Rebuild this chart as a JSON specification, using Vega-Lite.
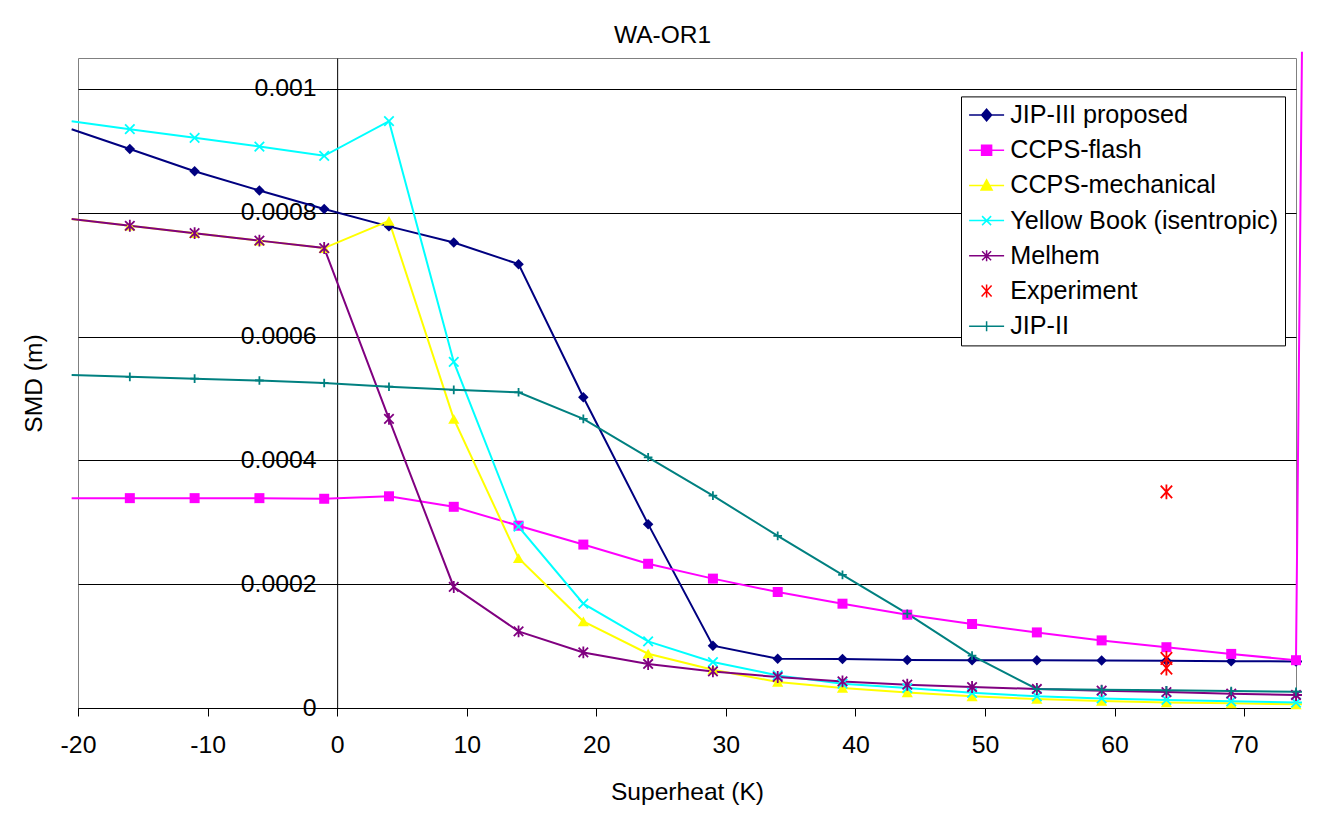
{
  "$schema": "https://vega.github.io/schema/vega-lite/v6.json",
  "width": 1218,
  "height": 650,
  "autosize": "none",
  "padding": {"left": 78, "top": 58, "right": 34, "bottom": 108},
  "background": "white",
  "config": {
    "font": "Liberation Sans",
    "view": {"stroke": "#808080", "strokeWidth": 1},
    "legend": {
      "orient": "none",
      "legendX": 883,
      "legendY": 38.4,
      "padding": 6,
      "strokeColor": "black",
      "fillColor": "white",
      "labelFontSize": 25.2,
      "labelColor": "black",
      "labelOffset": 11,
      "labelLimit": 400,
      "symbolOffset": 7,
      "rowPadding": 9.2,
      "symbolSize": 100,
      "symbolStrokeWidth": 1.5,
      "symbolOpacity": 1
    }
  },
  "title": {
    "text": "WA-OR1",
    "fontSize": 24.5,
    "fontWeight": "normal",
    "color": "black",
    "frame": "group",
    "anchor": "middle",
    "dx": -24.5,
    "dy": 36,
    "offset": 16,
    "baseline": "alphabetic"
  },
  "data": {
    "values": [
      {"s": "JIP-III proposed", "x": -20.49, "y": 0.000935},
      {"s": "JIP-III proposed", "x": -16, "y": 0.000903},
      {"s": "JIP-III proposed", "x": -11, "y": 0.000867},
      {"s": "JIP-III proposed", "x": -6, "y": 0.000836},
      {"s": "JIP-III proposed", "x": -1, "y": 0.000806},
      {"s": "JIP-III proposed", "x": 4, "y": 0.000778},
      {"s": "JIP-III proposed", "x": 9, "y": 0.000752},
      {"s": "JIP-III proposed", "x": 14, "y": 0.000717},
      {"s": "JIP-III proposed", "x": 19, "y": 0.000502},
      {"s": "JIP-III proposed", "x": 24, "y": 0.000297},
      {"s": "JIP-III proposed", "x": 29, "y": 0.0001006},
      {"s": "JIP-III proposed", "x": 34, "y": 0.0000797},
      {"s": "JIP-III proposed", "x": 39, "y": 0.0000792},
      {"s": "JIP-III proposed", "x": 44, "y": 0.0000775},
      {"s": "JIP-III proposed", "x": 49, "y": 0.0000772},
      {"s": "JIP-III proposed", "x": 54, "y": 0.000077},
      {"s": "JIP-III proposed", "x": 59, "y": 0.0000766},
      {"s": "JIP-III proposed", "x": 64, "y": 0.0000762},
      {"s": "JIP-III proposed", "x": 69, "y": 0.0000757},
      {"s": "JIP-III proposed", "x": 74, "y": 0.0000752},
      {"s": "JIP-III proposed", "x": 74.46, "y": 0.000075},
      {"s": "CCPS-flash", "x": -20.49, "y": 0.000339},
      {"s": "CCPS-flash", "x": -16, "y": 0.000339},
      {"s": "CCPS-flash", "x": -11, "y": 0.000339},
      {"s": "CCPS-flash", "x": -6, "y": 0.000339},
      {"s": "CCPS-flash", "x": -1, "y": 0.000338},
      {"s": "CCPS-flash", "x": 4, "y": 0.000342},
      {"s": "CCPS-flash", "x": 9, "y": 0.000325},
      {"s": "CCPS-flash", "x": 14, "y": 0.0002945},
      {"s": "CCPS-flash", "x": 19, "y": 0.000264},
      {"s": "CCPS-flash", "x": 24, "y": 0.000233},
      {"s": "CCPS-flash", "x": 29, "y": 0.000209},
      {"s": "CCPS-flash", "x": 34, "y": 0.0001874},
      {"s": "CCPS-flash", "x": 39, "y": 0.0001685},
      {"s": "CCPS-flash", "x": 44, "y": 0.0001507},
      {"s": "CCPS-flash", "x": 49, "y": 0.0001357},
      {"s": "CCPS-flash", "x": 54, "y": 0.0001221},
      {"s": "CCPS-flash", "x": 59, "y": 0.0001092},
      {"s": "CCPS-flash", "x": 64, "y": 0.0000982},
      {"s": "CCPS-flash", "x": 69, "y": 0.0000874},
      {"s": "CCPS-flash", "x": 74, "y": 0.0000772},
      {"s": "CCPS-flash", "x": 74.46, "y": 0.00106},
      {"s": "CCPS-mechanical", "x": -20.49, "y": 0.00079},
      {"s": "CCPS-mechanical", "x": -16, "y": 0.000779},
      {"s": "CCPS-mechanical", "x": -11, "y": 0.000767},
      {"s": "CCPS-mechanical", "x": -6, "y": 0.000755},
      {"s": "CCPS-mechanical", "x": -1, "y": 0.000743},
      {"s": "CCPS-mechanical", "x": 4, "y": 0.000787},
      {"s": "CCPS-mechanical", "x": 9, "y": 0.000467},
      {"s": "CCPS-mechanical", "x": 14, "y": 0.000242},
      {"s": "CCPS-mechanical", "x": 19, "y": 0.00014},
      {"s": "CCPS-mechanical", "x": 24, "y": 0.0000877},
      {"s": "CCPS-mechanical", "x": 29, "y": 0.0000619},
      {"s": "CCPS-mechanical", "x": 34, "y": 0.000042},
      {"s": "CCPS-mechanical", "x": 39, "y": 0.0000323},
      {"s": "CCPS-mechanical", "x": 44, "y": 0.0000252},
      {"s": "CCPS-mechanical", "x": 49, "y": 0.0000188},
      {"s": "CCPS-mechanical", "x": 54, "y": 0.0000145},
      {"s": "CCPS-mechanical", "x": 59, "y": 0.0000115},
      {"s": "CCPS-mechanical", "x": 64, "y": 0.000009},
      {"s": "CCPS-mechanical", "x": 69, "y": 0.0000075},
      {"s": "CCPS-mechanical", "x": 74, "y": 0.000006},
      {"s": "CCPS-mechanical", "x": 74.46, "y": 0.000006},
      {"s": "Yellow Book (isentropic)", "x": -20.49, "y": 0.000948},
      {"s": "Yellow Book (isentropic)", "x": -16, "y": 0.000935},
      {"s": "Yellow Book (isentropic)", "x": -11, "y": 0.000921},
      {"s": "Yellow Book (isentropic)", "x": -6, "y": 0.000907},
      {"s": "Yellow Book (isentropic)", "x": -1, "y": 0.000892},
      {"s": "Yellow Book (isentropic)", "x": 4, "y": 0.000948},
      {"s": "Yellow Book (isentropic)", "x": 9, "y": 0.000559},
      {"s": "Yellow Book (isentropic)", "x": 14, "y": 0.000293},
      {"s": "Yellow Book (isentropic)", "x": 19, "y": 0.0001685},
      {"s": "Yellow Book (isentropic)", "x": 24, "y": 0.0001076},
      {"s": "Yellow Book (isentropic)", "x": 29, "y": 0.0000743},
      {"s": "Yellow Book (isentropic)", "x": 34, "y": 0.0000527},
      {"s": "Yellow Book (isentropic)", "x": 39, "y": 0.0000393},
      {"s": "Yellow Book (isentropic)", "x": 44, "y": 0.0000323},
      {"s": "Yellow Book (isentropic)", "x": 49, "y": 0.0000245},
      {"s": "Yellow Book (isentropic)", "x": 54, "y": 0.0000188},
      {"s": "Yellow Book (isentropic)", "x": 59, "y": 0.0000155},
      {"s": "Yellow Book (isentropic)", "x": 64, "y": 0.000013},
      {"s": "Yellow Book (isentropic)", "x": 69, "y": 0.0000108},
      {"s": "Yellow Book (isentropic)", "x": 74, "y": 0.0000088},
      {"s": "Yellow Book (isentropic)", "x": 74.46, "y": 0.0000087},
      {"s": "Melhem", "x": -20.49, "y": 0.00079},
      {"s": "Melhem", "x": -16, "y": 0.000779},
      {"s": "Melhem", "x": -11, "y": 0.000767},
      {"s": "Melhem", "x": -6, "y": 0.000755},
      {"s": "Melhem", "x": -1, "y": 0.000743},
      {"s": "Melhem", "x": 4, "y": 0.000467},
      {"s": "Melhem", "x": 9, "y": 0.0001955},
      {"s": "Melhem", "x": 14, "y": 0.0001238},
      {"s": "Melhem", "x": 19, "y": 0.0000898},
      {"s": "Melhem", "x": 24, "y": 0.0000711},
      {"s": "Melhem", "x": 29, "y": 0.0000591},
      {"s": "Melhem", "x": 34, "y": 0.0000501},
      {"s": "Melhem", "x": 39, "y": 0.000043},
      {"s": "Melhem", "x": 44, "y": 0.0000376},
      {"s": "Melhem", "x": 49, "y": 0.0000339},
      {"s": "Melhem", "x": 54, "y": 0.0000307},
      {"s": "Melhem", "x": 59, "y": 0.0000279},
      {"s": "Melhem", "x": 64, "y": 0.0000258},
      {"s": "Melhem", "x": 69, "y": 0.0000231},
      {"s": "Melhem", "x": 74, "y": 0.000021},
      {"s": "Melhem", "x": 74.46, "y": 0.0000208},
      {"s": "Experiment", "x": 64, "y": 0.000349},
      {"s": "Experiment", "x": 64, "y": 0.00008},
      {"s": "Experiment", "x": 64, "y": 0.0000646},
      {"s": "JIP-II", "x": -20.49, "y": 0.000538},
      {"s": "JIP-II", "x": -16, "y": 0.000535},
      {"s": "JIP-II", "x": -11, "y": 0.000532},
      {"s": "JIP-II", "x": -6, "y": 0.000529},
      {"s": "JIP-II", "x": -1, "y": 0.000525},
      {"s": "JIP-II", "x": 4, "y": 0.000519},
      {"s": "JIP-II", "x": 9, "y": 0.000514},
      {"s": "JIP-II", "x": 14, "y": 0.00051},
      {"s": "JIP-II", "x": 19, "y": 0.000467},
      {"s": "JIP-II", "x": 24, "y": 0.000405},
      {"s": "JIP-II", "x": 29, "y": 0.000343},
      {"s": "JIP-II", "x": 34, "y": 0.000278},
      {"s": "JIP-II", "x": 39, "y": 0.000215},
      {"s": "JIP-II", "x": 44, "y": 0.0001523},
      {"s": "JIP-II", "x": 49, "y": 0.0000845},
      {"s": "JIP-II", "x": 54, "y": 0.0000307},
      {"s": "JIP-II", "x": 59, "y": 0.0000296},
      {"s": "JIP-II", "x": 64, "y": 0.0000285},
      {"s": "JIP-II", "x": 69, "y": 0.0000274},
      {"s": "JIP-II", "x": 74, "y": 0.0000263},
      {"s": "JIP-II", "x": 74.46, "y": 0.0000262}
    ]
  },
  "encoding": {
    "x": {
      "field": "x",
      "type": "quantitative",
      "scale": {"domain": [-20, 74], "nice": false, "zero": false},
      "axis": {
        "title": "Superheat (K)",
        "values": [-20, -10, 0, 10, 20, 30, 40, 50, 60, 70],
        "labelExpr": "(datum.value < 0 ? '-' : '') + abs(datum.value)",
        "grid": false,
        "domainColor": "black",
        "domainWidth": 1,
        "tickColor": "black",
        "tickSize": 8,
        "labelFontSize": 24.8,
        "labelColor": "black",
        "labelPadding": 16,
        "labelFlush": false,
        "labelOverlap": false,
        "labelBound": false,
        "titleFontSize": 24.6,
        "titleFontWeight": "normal",
        "titleColor": "black",
        "titleBaseline": "alphabetic",
        "titleY": 91.7
      }
    },
    "y": {
      "field": "y",
      "type": "quantitative",
      "scale": {"domain": [0, 0.00105], "nice": false, "zero": true},
      "axis": {
        "title": "SMD (m)",
        "values": [0, 0.0002, 0.0004, 0.0006, 0.0008, 0.001],
        "format": "~g",
        "offset": -259.15,
        "grid": true,
        "gridColor": "black",
        "gridWidth": 1,
        "domainColor": "black",
        "domainWidth": 1,
        "tickColor": "black",
        "tickSize": 8,
        "labelFontSize": 24.8,
        "labelColor": "black",
        "labelPadding": 13,
        "labelFlush": false,
        "labelOverlap": false,
        "labelBound": false,
        "titleFontSize": 24.6,
        "titleFontWeight": "normal",
        "titleColor": "black",
        "titleAngle": -90,
        "titleAlign": "center",
        "titleBaseline": "alphabetic",
        "titleX": -295.5,
        "titleY": 325
      }
    },
    "color": {
      "field": "s",
      "type": "nominal",
      "scale": {
        "domain": ["JIP-III proposed", "CCPS-flash", "CCPS-mechanical", "Yellow Book (isentropic)", "Melhem", "Experiment", "JIP-II"],
        "range": ["#000080", "#FF00FF", "#FFFF00", "#00FFFF", "#800080", "#FF0000", "#008080"]
      },
      "legend": {"title": null}
    }
  },
  "layer": [
    {
      "transform": [{"filter": "datum.s !== 'Experiment'"}],
      "mark": {"type": "line", "strokeWidth": 2, "clip": false}
    },
    {
      "transform": [{"filter": "datum.s === 'JIP-III proposed' && datum.x >= -20 && datum.x <= 74"}],
      "mark": {"type": "point", "shape": "diamond", "filled": true, "size": 110, "opacity": 1}
    },
    {
      "transform": [{"filter": "datum.s === 'CCPS-flash' && datum.x >= -20 && datum.x <= 74"}],
      "mark": {"type": "point", "shape": "square", "filled": true, "size": 100, "opacity": 1}
    },
    {
      "transform": [{"filter": "datum.s === 'CCPS-mechanical' && datum.x >= -20 && datum.x <= 74"}],
      "mark": {"type": "point", "shape": "triangle-up", "filled": true, "size": 125, "opacity": 1}
    },
    {
      "transform": [{"filter": "datum.s === 'Yellow Book (isentropic)' && datum.x >= -20 && datum.x <= 74"}],
      "mark": {"type": "point", "shape": "M-1,-1L1,1M-1,1L1,-1", "filled": false, "size": 90, "opacity": 1, "strokeWidth": 1.8}
    },
    {
      "transform": [{"filter": "datum.s === 'Melhem' && datum.x >= -20 && datum.x <= 74"}],
      "mark": {"type": "point", "shape": "M-1,-1L1,1M-1,1L1,-1M0,-1.25L0,1.25", "filled": false, "size": 90, "opacity": 1, "strokeWidth": 1.8}
    },
    {
      "transform": [{"filter": "datum.s === 'Experiment'"}],
      "mark": {"type": "point", "shape": "M-1,-1.1L1,1.1M-1,1.1L1,-1.1M0,-1.3L0,1.3", "filled": false, "size": 130, "opacity": 1, "strokeWidth": 1.8}
    },
    {
      "transform": [{"filter": "datum.s === 'JIP-II' && datum.x >= -20 && datum.x <= 74"}],
      "mark": {"type": "point", "shape": "M-1,0L1,0M0,-1L0,1", "filled": false, "size": 75, "opacity": 1, "strokeWidth": 1.8}
    },
    {
      "transform": [{"filter": "datum.x > 1000"}],
      "mark": {"type": "point", "filled": true, "size": 100, "opacity": 1},
      "encoding": {
        "shape": {
          "field": "s",
          "type": "nominal",
          "legend": {"title": null},
          "scale": {
            "domain": ["JIP-III proposed", "CCPS-flash", "CCPS-mechanical", "Yellow Book (isentropic)", "Melhem", "Experiment", "JIP-II"],
            "range": [
              "M-3.5,0L3.5,0M0,-1.15L1,0L0,1.15L-1,0Z",
              "M-3.5,0L3.5,0M-1,-1L1,-1L1,1L-1,1Z",
              "M-3.5,0L3.5,0M0,-1.1L1.1,0.9L-1.1,0.9Z",
              "M-3.5,0L3.5,0M-0.9,-0.9L0.9,0.9M-0.9,0.9L0.9,-0.9",
              "M-3.5,0L3.5,0M-0.9,-0.9L0.9,0.9M-0.9,0.9L0.9,-0.9M0,-1.1L0,1.1",
              "M-1,-1.1L1,1.1M-1,1.1L1,-1.1M0,-1.3L0,1.3",
              "M-3.5,0L3.5,0M0,-1L0,1"
            ]
          }
        }
      }
    }
  ]
}
